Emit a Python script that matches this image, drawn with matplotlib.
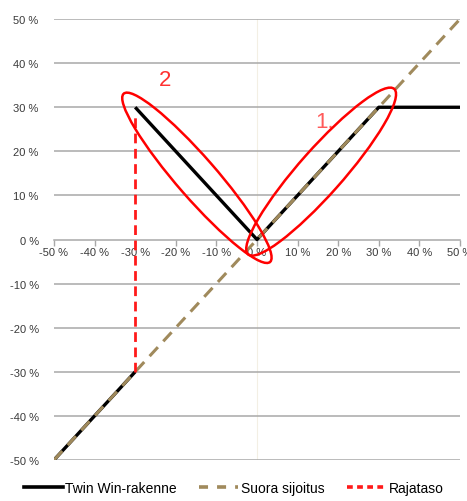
"""
Twin Win -rakenteen tuottoprofiili verrattuna suoraan sijoitukseen.
"""
import numpy as np
import matplotlib.pyplot as plt
from matplotlib.lines import Line2D
from matplotlib.patches import Ellipse
from matplotlib.ticker import FuncFormatter, MultipleLocator

plt.rcParams['font.family'] = ['Liberation Sans Narrow', 'Liberation Sans', 'DejaVu Sans']

# underlying performance (x) vs. product return (y), in percent
twin_x = [-50, -30, np.nan, -30, 0, 30, 50]
twin_y = [-50, -30, np.nan, 30, 0, 30, 30]
direct_x = [-50, 50]
direct_y = [-50, 50]
barrier_x = [-30, -30]
barrier_y = [-30, 28]

labels = ['Twin Win-rakenne', 'Suora sijoitus', 'Rajataso']
colors = ['#000000', '#a08a5c', '#ff1a1a']

GRID = '#a8a8a8'


def pct(v, pos=None):
    return '%d %%' % v


fig = plt.figure(figsize=(4.67, 5.02), dpi=100)
ax = fig.add_axes([0.1156, 0.0817, 0.8694, 0.8783])

ax.set_xlim(-50, 50)
ax.set_ylim(-50, 50)

# horizontal grid, x axis sits on zero
for v in range(-50, 51, 10):
    if v != 0:
        ax.axhline(v, color=GRID, lw=1.1, zorder=1)
ax.axvline(0, color='#f3efe4', lw=0.8, zorder=0.5)

for s in ['top', 'right', 'left']:
    ax.spines[s].set_visible(False)
ax.spines['bottom'].set_position(('data', 0))
ax.spines['bottom'].set_color(GRID)
ax.spines['bottom'].set_linewidth(1.1)

ax.xaxis.set_major_locator(MultipleLocator(10))
ax.yaxis.set_major_locator(MultipleLocator(10))
ax.xaxis.set_major_formatter(FuncFormatter(pct))
ax.yaxis.set_major_formatter(FuncFormatter(pct))
ax.tick_params(axis='x', direction='out', length=4, color=GRID, width=1,
               labelsize=8, pad=1.5, labelcolor='#3a3a3a')
ax.tick_params(axis='y', length=0, labelsize=8, pad=11, labelcolor='#3a3a3a')
for t in ax.get_xticklabels() + ax.get_yticklabels():
    t.set_clip_on(False)

# series
ax.plot(twin_x, twin_y, color=colors[0], lw=2.4, zorder=3,
        solid_capstyle='butt')
ax.plot(direct_x, direct_y, color=colors[1], lw=2.2, zorder=4,
        dashes=(4, 2.6), dash_capstyle='butt')
ax.plot(barrier_x, barrier_y, color=colors[2], lw=2.0, zorder=5,
        dashes=(3.5, 2), dash_capstyle='butt')

# hand-drawn highlight ellipses and their numbers
ax.add_patch(Ellipse((-14.8, 14.0), 52.5, 9.5, angle=-46.5, fill=False,
                     ec='#ff0000', lw=1.8, zorder=6))
ax.add_patch(Ellipse((15.8, 15.4), 52.0, 10.5, angle=46.0, fill=False,
                     ec='#ff0000', lw=1.8, zorder=6))
ax.text(-22.7, 36.3, '2', color='#ff3030', fontsize=16, ha='center',
        va='center')
ax.text(16.7, 26.8, '1.', color='#ff5a5a', fontsize=16, ha='center',
        va='center')

handles = [
    Line2D([], [], color=colors[0], lw=2.6),
    Line2D([], [], color=colors[1], lw=2.6, dashes=(2.5, 2.5)),
    Line2D([], [], color=colors[2], lw=2.6, dashes=(1.6, 1.2)),
]
fig.legend(handles, labels, loc='lower center', ncol=3, frameon=False,
           fontsize=10, handlelength=2.8, handletextpad=0.2,
           columnspacing=1.6, bbox_to_anchor=(0.5, -0.012))

fig.savefig('out.png', dpi=100)
